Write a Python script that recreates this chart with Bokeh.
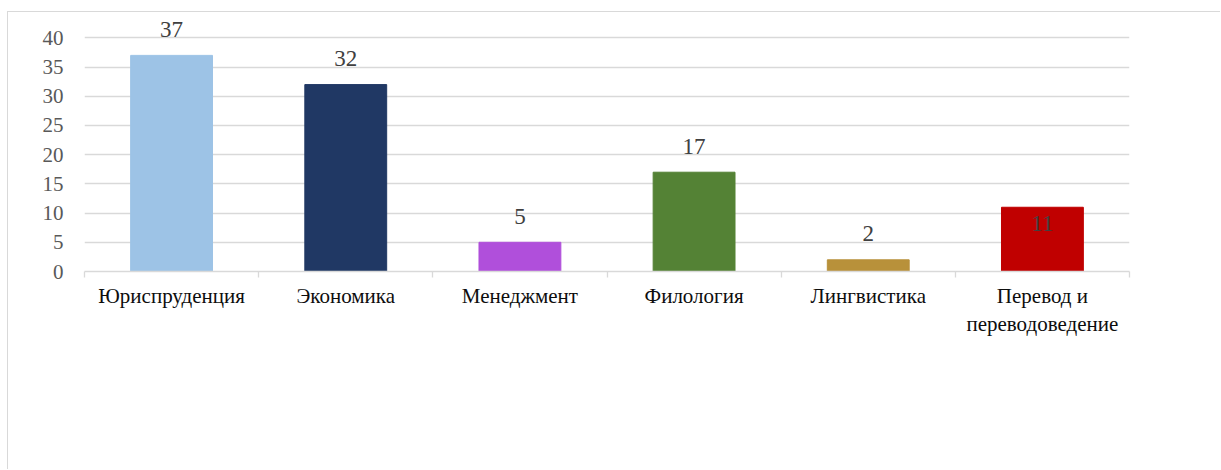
import numpy as np
from bokeh.plotting import figure
from bokeh.models import Range1d, FixedTicker, ColumnDataSource
from bokeh.core.properties import value
from bokeh.embed import file_html
from bokeh.resources import INLINE

# ---- data ----
categories = ["Юриспруденция", "Экономика", "Менеджмент", "Филология",
              "Лингвистика", "Перевод и\nпереводоведение"]
counts = [37, 32, 5, 17, 2, 11]
count_labels = ["37", "32", "5", "17", "2", "11"]
y_ticks = [0, 5, 10, 15, 20, 25, 30, 35, 40]

# ---- styles ----
bar_colors = ["#9DC3E6", "#203864", "#B04FDB", "#548235", "#B8913A", "#C00000"]
FONT = "Liberation Serif"

n = len(categories)
centers = np.arange(1, n + 1)
bounds = np.arange(0.5, n + 1, 1.0)

label_dy = [-26] * n
label_dy[5] = 16  # the last label sits inside its bar in the reference

src = ColumnDataSource(dict(x=centers, top=counts, color=bar_colors,
                            lab=count_labels, dy=label_dy))

p = figure(width=1213, height=458, output_backend="svg", toolbar_location=None,
           x_range=Range1d(0.5, n + 0.5), y_range=Range1d(0, 44),
           min_border_left=76, min_border_right=92, min_border_top=2,
           min_border_bottom=199)
p.margin = (11, 0, 0, 7)
p.outline_line_color = None
p.background_fill_color = "white"
p.border_fill_color = "white"
p.styles = {"border-left": "1px solid #d9d9d9", "border-top": "1px solid #d9d9d9"}

p.vbar(x="x", top="top", width=0.47, bottom=0, color="color", source=src)
p.text(x="x", y="top", text="lab", y_offset="dy", source=src,
       text_align="center", text_baseline="alphabetic",
       text_font=value(FONT), text_font_size="23px", text_color="#404040")

# grid
p.xgrid.grid_line_color = None
p.ygrid.grid_line_color = "#d9d9d9"
p.ygrid.grid_line_width = 1.3

# y axis
p.yaxis.ticker = FixedTicker(ticks=y_ticks)
p.yaxis.axis_line_color = None
p.yaxis.major_tick_line_color = None
p.yaxis.minor_tick_line_color = None
p.yaxis.major_tick_out = 0
p.yaxis.major_tick_in = 0
p.yaxis.major_label_standoff = 21
p.yaxis.major_label_text_font = FONT
p.yaxis.major_label_text_font_size = "21px"
p.yaxis.major_label_text_color = "#595959"

# x axis
p.xaxis.ticker = FixedTicker(ticks=list(centers), minor_ticks=list(bounds))
p.xaxis.major_label_overrides = {int(c): categories[i] for i, c in enumerate(centers)}
p.xaxis.axis_line_color = "#d9d9d9"
p.xaxis.axis_line_width = 1.3
p.xaxis.major_tick_line_color = None
p.xaxis.major_tick_out = 0
p.xaxis.major_tick_in = 0
p.xaxis.minor_tick_line_color = "#d9d9d9"
p.xaxis.minor_tick_line_width = 1.3
p.xaxis.minor_tick_out = 6
p.xaxis.minor_tick_in = 0
p.xaxis.major_label_standoff = 6
p.xaxis.major_label_text_font = FONT
p.xaxis.major_label_text_font_size = "21px"
p.xaxis.major_label_text_color = "#0d0d0d"

open("out.html", "w").write(file_html(p, INLINE))
